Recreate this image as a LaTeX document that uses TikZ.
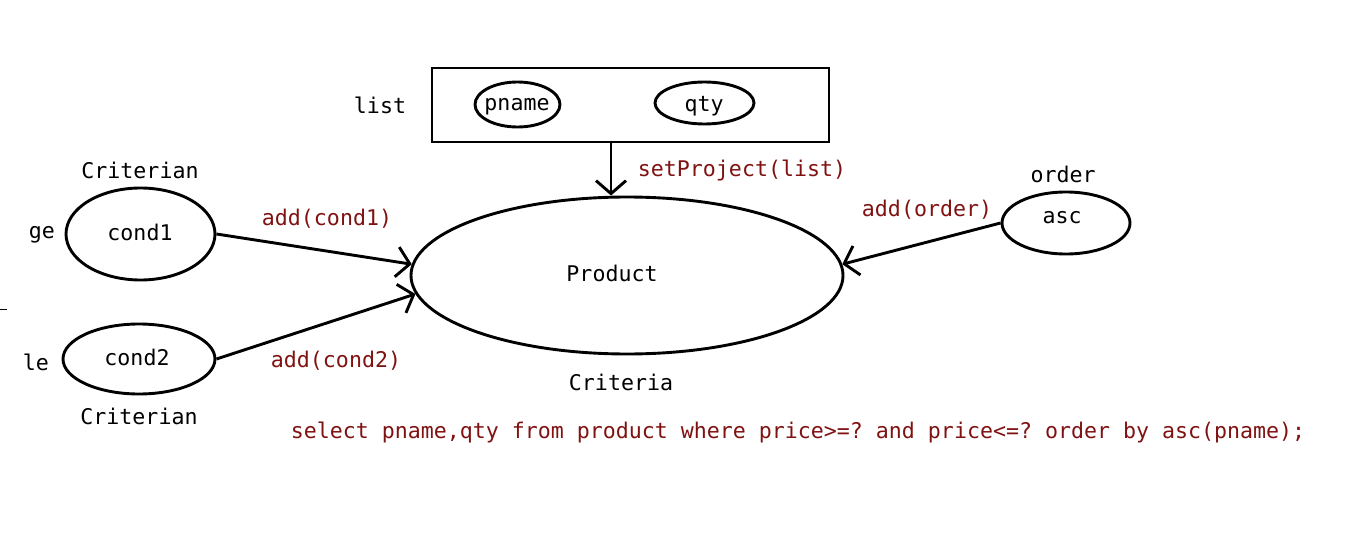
\documentclass[tikz,border=0pt]{standalone}
\usepackage{fontspec}
\setmonofont{DejaVu Sans Mono}
\usetikzlibrary{shapes.geometric,arrows.meta}
\definecolor{codered}{RGB}{128,18,18}
\tikzset{
  lbl/.style={font=\ttfamily\fontsize{21.6}{24}\selectfont, inner sep=0pt, anchor=center},
  redlbl/.style={lbl, text=codered},
  ell/.style={draw, ellipse, line width=2.9pt, inner sep=0pt},
  conn/.style={line width=2.9pt, -{Straight Barb[length=13pt,width=30pt,line width=2.9pt]}},
}
\begin{document}
\begin{tikzpicture}[x=1pt,y=-1pt]
\useasboundingbox[fill=white] (0,0) rectangle (1359,540);
% list box
\node[draw, line width=2.9pt, minimum width=397pt, minimum height=74pt, inner sep=0pt] (box) at (630.5,105) {};
\node[ell, minimum width=85pt, minimum height=45pt] (pname) at (517.5,104.5) {};
\node[lbl] at (517,107) {pname};
\node[ell, minimum width=99pt, minimum height=42pt] (qty) at (704.5,103) {};
\node[lbl] at (704,106) {qty};
\node[lbl] (list) at (380,105) {list};
% product
\node[ell, minimum width=432pt, minimum height=157pt] (prod) at (627,275.5) {};
\node[lbl] (prodtxt) at (612,273) {Product};
\node[lbl] (crit) at (621,382) {Criteria};
\coordinate (boxb) at (611,142);
\draw[conn] (boxb) -- (prod.north -| boxb);
\node[redlbl] (setp) at (742,170) {setProject(list)};
% cond1
\node[ell, minimum width=149pt, minimum height=92pt] (c1) at (140.5,234) {};
\node[lbl] at (140,232) {cond1};
\node[lbl] (crit1) at (140,170) {Criterian};
\node[lbl] (ge) at (42,235) {ge};
% cond2
\node[ell, minimum width=152pt, minimum height=70pt] (c2) at (139,359) {};
\node[lbl] at (137,357) {cond2};
\node[lbl] (crit2) at (139,416) {Criterian};
\node[lbl] (le) at (36,362) {le};
% asc
\node[ell, minimum width=128pt, minimum height=62pt] (asc) at (1066,223) {};
\node[lbl] at (1062,218) {asc};
\node[lbl] (ord) at (1063,174) {order};
% connectors
\draw[conn] (c1.east) -- (prod.177);
\node[redlbl] at (327,219) {add(cond1)};
\draw[conn] (c2.east) -- (prod.185);
\node[redlbl] at (336,361) {add(cond2)};
\draw[conn] (asc.west) -- (prod.3);
\node[redlbl] at (927,210) {add(order)};
% sql
\node[redlbl] (sql) at (798,433) {select pname,qty from product where price>=? and price<=? order by asc(pname);};
% stray mark
\draw[line width=1pt] (0,309) -- (7,309);
\end{tikzpicture}
\end{document}
